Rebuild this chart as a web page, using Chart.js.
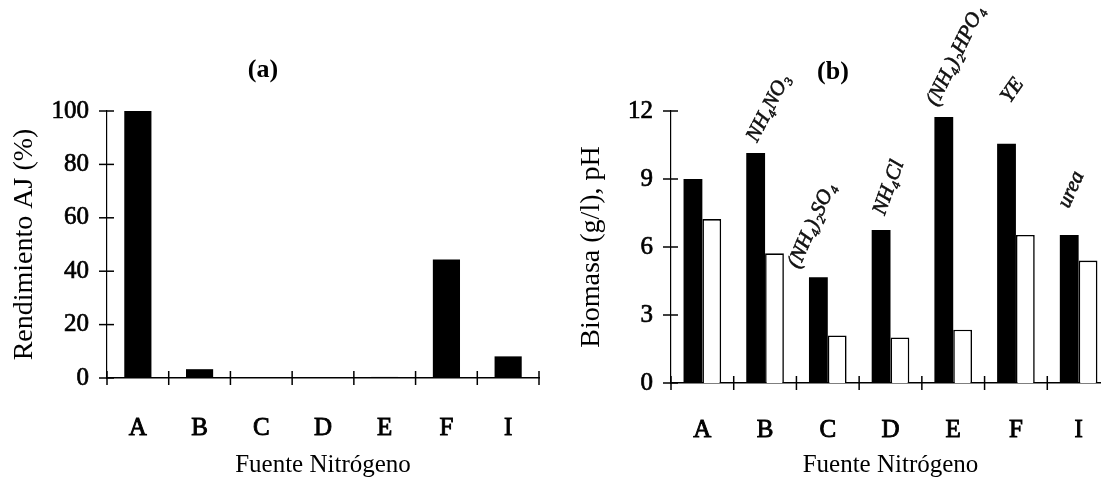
<!DOCTYPE html>
<html>
<head>
<meta charset="utf-8">
<script src="https://cdn.jsdelivr.net/npm/chart.js@4.4.1/dist/chart.umd.min.js"></script>
<style>
  html, body { margin: 0; padding: 0; background: #fff; overflow: hidden; width: 1101px; height: 478px; }
  #wrap { position: relative; width: 1101px; height: 478px; overflow: hidden; }
  canvas { position: absolute; top: 0; }
  #cA { left: 0; }
  #cB { left: 560px; }
</style>
</head>
<body>
<div id="wrap">
  <canvas id="cA" width="560" height="478"></canvas>
  <canvas id="cB" width="560" height="478"></canvas>
</div>
<script>
// Nitrogen sources
const fuentes = ['A', 'B', 'C', 'D', 'E', 'F', 'I'];
// (a) AJ yield, %
const rendimientoAJ = [100, 3.3, 0, 0, 0.4, 44.4, 8.1];
// (b) biomass (g/l) and final pH
const biomasa = [9.0, 10.15, 4.67, 6.75, 11.74, 10.56, 6.53];
const pHfinal = [7.23, 5.72, 2.10, 2.01, 2.35, 6.53, 5.40];
// axis tick values
const ticksA = [0, 20, 40, 60, 80, 100];
const ticksB = [0, 3, 6, 9, 12];
// handwritten notes above panel (b)
const notasB = ['', 'NH₄NO₃', '(NH₄)₂SO₄', 'NH₄Cl', '(NH₄)₂HPO₄', 'YE', 'urea'];

const SERIF = '"Liberation Serif", "Times New Roman", serif';

// note placement: [dx from category centre, lift above tallest bar, angle in degrees]
const notePlacement = [null, [-8, 10, -63], [-29, 8, -66], [-6, 14, -70], [-16, 10, -64], [-6, 40, -55], [-10, 26, -66]];

// crossing tick marks on both axes
const crossTicks = {
  id: 'crossTicks',
  afterDraw(chart) {
    const { ctx } = chart;
    const x = chart.scales.x, y = chart.scales.y;
    ctx.save();
    ctx.strokeStyle = '#000';
    ctx.lineWidth = 1.5;
    const n = x.ticks.length;
    const bounds = [x.left];
    for (let i = 1; i < n; i++) bounds.push((x.getPixelForValue(i - 1) + x.getPixelForValue(i)) / 2);
    bounds.push(x.right);
    const by = x.top;
    bounds.forEach(px => {
      ctx.beginPath(); ctx.moveTo(px, by - 7); ctx.lineTo(px, by + 7); ctx.stroke();
    });
    y.ticks.forEach(t => {
      const py = y.getPixelForValue(t.value);
      ctx.beginPath(); ctx.moveTo(y.right - 8, py); ctx.lineTo(y.right + 7, py); ctx.stroke();
    });
    ctx.restore();
  }
};

// panel letter above the plot
const panelLetter = {
  id: 'panelLetter',
  afterDraw(chart, args, opts) {
    const { ctx, chartArea } = chart;
    ctx.save();
    ctx.font = 'bold 26px ' + SERIF;
    ctx.fillStyle = '#000';
    ctx.textAlign = 'center';
    ctx.textBaseline = 'middle';
    ctx.fillText(opts.text, chartArea.left + opts.dx, opts.y);
    ctx.restore();
  }
};

// handwritten-style notes anchored to each category
const notes = {
  id: 'notes',
  afterDraw(chart, args, opts) {
    if (!opts.texts) return;
    const { ctx } = chart;
    const x = chart.scales.x, y = chart.scales.y;
    ctx.save();
    ctx.font = 'italic 21px ' + SERIF;
    ctx.fillStyle = '#111';
    ctx.strokeStyle = '#111';
    ctx.lineWidth = 0.6;
    ctx.textAlign = 'left';
    ctx.textBaseline = 'alphabetic';
    opts.texts.forEach((t, i) => {
      if (!t) return;
      const [dx, lift, ang] = opts.placement[i];
      const top = Math.max(...chart.data.datasets.map(d => d.data[i]));
      const px = x.getPixelForValue(i) + dx;
      const py = y.getPixelForValue(top) - lift;
      ctx.save();
      ctx.translate(px, py);
      ctx.rotate(ang * Math.PI / 180);
      ctx.fillText(t, 0, 0);
      ctx.strokeText(t, 0, 0);
      ctx.restore();
    });
    ctx.restore();
  }
};

function axes(yTicks, yMax, yWidth, xHeight, yTitle, yTitlePad, xPad) {
  return {
    x: {
      type: 'category',
      offset: true,
      grid: { display: false, drawTicks: false, offset: true },
      border: { display: true, color: '#000', width: 1.6 },
      ticks: { color: '#000', font: { family: SERIF, size: 25 }, padding: xPad, maxRotation: 0,
               textStrokeColor: '#000', textStrokeWidth: 0.9 },
      title: { display: true, text: 'Fuente Nitrógeno', color: '#000',
               font: { family: SERIF, size: 25, lineHeight: 1 }, padding: { top: 0, bottom: 0 } },
      afterFit(s) { s.height = xHeight; }
    },
    y: {
      min: 0, max: yMax,
      grid: { display: false, drawTicks: false },
      border: { display: true, color: '#000', width: 1.2, dash: [5, 2] },
      afterBuildTicks(s) { s.ticks = yTicks.map(v => ({ value: v })); },
      ticks: { color: '#000', font: { family: SERIF, size: 25 }, padding: 18,
               textStrokeColor: '#000', textStrokeWidth: 0.7 },
      title: { display: true, text: yTitle, color: '#000',
               font: { family: SERIF, size: 28, lineHeight: 1 }, padding: { top: yTitlePad, bottom: 0 } },
      afterFit(s) { s.width = yWidth; }
    }
  };
}

Chart.defaults.animation = false;
Chart.defaults.font.family = SERIF;

new Chart(document.getElementById('cA'), {
  type: 'bar',
  data: {
    labels: fuentes,
    datasets: [{
      label: 'Rendimiento AJ (%)',
      data: rendimientoAJ,
      backgroundColor: '#000',
      borderWidth: 0,
      barPercentage: 0.44,
      categoryPercentage: 1.0
    }]
  },
  options: {
    responsive: false,
    devicePixelRatio: 1,
    layout: { padding: { top: 111, right: 21, bottom: 0, left: 0 } },
    scales: axes(ticksA, 100, 107, 100, 'Rendimiento AJ (%)', 11, 35),
    plugins: {
      legend: { display: false },
      tooltip: { enabled: false },
      panelLetter: { text: '(a)', dx: 156, y: 70 }
    }
  },
  plugins: [crossTicks, panelLetter]
});

new Chart(document.getElementById('cB'), {
  type: 'bar',
  data: {
    labels: fuentes,
    datasets: [{
      label: 'Biomasa (g/l)',
      data: biomasa,
      backgroundColor: '#000',
      borderWidth: 0,
      barPercentage: 1.0,
      categoryPercentage: 0.6
    }, {
      label: 'pH',
      data: pHfinal,
      backgroundColor: '#fff',
      borderColor: '#000',
      borderWidth: 1.6,
      barPercentage: 1.0,
      categoryPercentage: 0.6
    }]
  },
  options: {
    responsive: false,
    devicePixelRatio: 1,
    layout: { padding: { top: 111, right: 10, bottom: 0, left: 0 } },
    scales: axes(ticksB, 12, 111, 95, 'Biomasa (g/l), pH', 18, 32),
    plugins: {
      legend: { display: false },
      tooltip: { enabled: false },
      panelLetter: { text: '(b)', dx: 162, y: 72 },
      notes: { texts: notasB, placement: notePlacement }
    }
  },
  plugins: [crossTicks, panelLetter, notes]
});
</script>
</body>
</html>
